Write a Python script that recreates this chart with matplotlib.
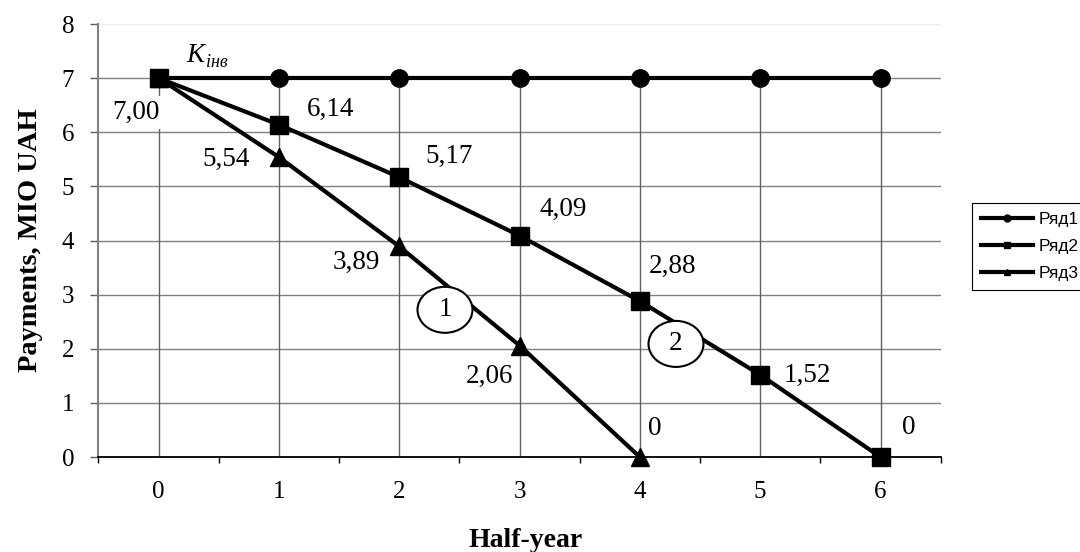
import numpy as np
import matplotlib.pyplot as plt
from matplotlib.patches import Ellipse

plt.rcParams['font.family'] = ['Liberation Serif', 'DejaVu Serif']

# data
half_years = [0, 1, 2, 3, 4, 5, 6]
row1 = [7, 7, 7, 7, 7, 7, 7]
row2 = [7, 6.14, 5.17, 4.09, 2.88, 1.52, 0]
row3 = [7, 5.54, 3.89, 2.06, 0]
series_names = ['Ряд1', 'Ряд2', 'Ряд3']

row2_labels = ['7,00', '6,14', '5,17', '4,09', '2,88', '1,52', '0']
row3_labels = [None, '5,54', '3,89', '2,06', '0']

# label offsets from their point, in pixels
row2_offsets = [(-23, -34), (52, 15), (50, 21), (44, 26), (33, 35), (47, -1), (28, 30)]
row3_offsets = [None, (-53, -2), (-43, -16), (-30, -31), (15, 29)]

fig = plt.figure(figsize=(10.8, 5.52), dpi=100)
ax = fig.add_axes([0.0912, 0.172, 0.7798, 0.7845])

ax.set_xlim(-0.5, 6.5)
ax.set_ylim(0, 8)

# gridlines and drop lines
ax.set_yticks(range(0, 9))
ax.yaxis.grid(True, color='#808080', lw=1, zorder=0)
ax.get_ygridlines()[-1].set_color('#eeeeee')
ax.set_axisbelow(True)

tops = [max(a, b) for a, b in zip(row1, row2)]
ax.vlines(half_years, 0, tops, color='#606060', lw=1, zorder=1)

lw = 3
ms = 12.5
l1, = ax.plot(half_years, row1, '-o', color='black', lw=lw, ms=ms, zorder=3, clip_on=False)
l3, = ax.plot(half_years[:len(row3)], row3, '-^', color='black', lw=lw, ms=ms, zorder=4, clip_on=False)
l2, = ax.plot(half_years, row2, '-s', color='black', lw=lw, ms=ms, zorder=5, clip_on=False)

# labels sit above the grid but under the series lines
box = dict(boxstyle='square,pad=0.15', fc='white', ec='none')
for x, y, t, off in zip(half_years, row2, row2_labels, row2_offsets):
    ax.annotate(t, (x, y), xytext=off, textcoords='offset pixels',
                ha='center', va='center', fontsize=19.5, bbox=box, zorder=2)
for x, y, t, off in zip(half_years, row3, row3_labels, row3_offsets):
    if t is None:
        continue
    ax.annotate(t, (x, y), xytext=off, textcoords='offset pixels',
                ha='center', va='center', fontsize=19.5, bbox=box, zorder=2)

# K_инв label for row 1
ax.text(0.232, 7.29, 'K', fontsize=19.5, style='italic', ha='left', va='baseline')
ax.text(0.396, 7.198, 'інв', fontsize=13, style='italic', ha='left', va='baseline')

# circled curve numbers
for num, (cx, cy) in zip(['1', '2'], [(2.38, 2.72), (4.3, 2.09)]):
    ax.add_patch(Ellipse((cx, cy), 0.457, 0.85, fc='white', ec='black', lw=1.5, zorder=7))
    ax.text(cx, cy, num, fontsize=19.5, ha='center', va='center', zorder=8)

# axes styling
ax.set_xticks(half_years)
ax.set_xticks(np.arange(-0.5, 7, 1), minor=True)
ax.tick_params(axis='x', which='major', length=0, pad=17, labelsize=18)
ax.tick_params(axis='x', which='minor', length=4.5, width=1, direction='out', color='black')
ax.tick_params(axis='y', length=5.5, width=1, direction='out', color='#606060', pad=12, labelsize=18)

ax.spines['right'].set_visible(False)
ax.spines['top'].set_visible(False)
ax.spines['left'].set_color('#808080')
ax.spines['left'].set_linewidth(1.5)
ax.spines['bottom'].set_color('black')
ax.spines['bottom'].set_linewidth(1.3)

ax.set_xlabel('Half-year', fontsize=20, fontweight='bold')
ax.xaxis.set_label_coords(0.507, -0.163)
ax.set_ylabel('Payments, MIO UAH', fontsize=20.5, fontweight='bold')
ax.yaxis.set_label_coords(-0.066, 0.5)

leg = fig.legend([l1, l2, l3], series_names, loc='upper left',
                 bbox_to_anchor=(972 / 1080, 1 - 203 / 552), borderaxespad=0,
                 prop={'family': 'Liberation Sans', 'size': 12.5},
                 markerscale=0.4, handlelength=3.0, handletextpad=0.36,
                 labelspacing=0.7, borderpad=0.5, fancybox=False,
                 edgecolor='black', framealpha=1)
leg.get_frame().set_linewidth(0.8)

fig.savefig('out.png', dpi=100)
